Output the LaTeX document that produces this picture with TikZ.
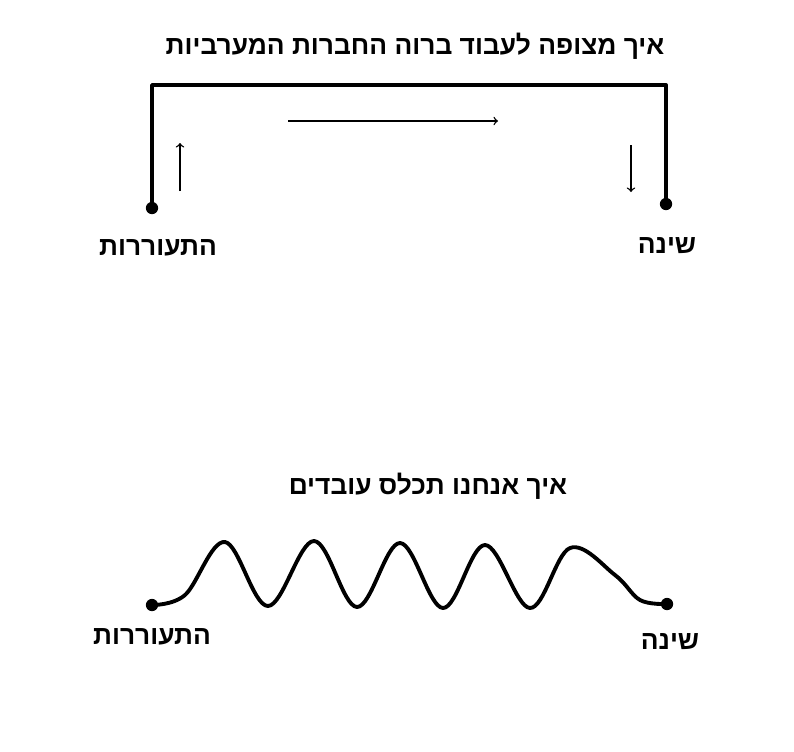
\documentclass[tikz,border=0pt]{standalone}
\usepackage{fontspec}
\newfontfamily\hebfont[Script=Hebrew]{Liberation Sans}
\TeXXeTstate=1
\begin{document}
\begin{tikzpicture}[x=0.02cm,y=-0.02cm,
		heb/.style={font=\hebfont\bfseries\fontsize{15}{18}\selectfont},
		thick line/.style={line width=2.2pt, line cap=round, line join=round},
		thin arrow/.style={line width=0.8pt, -{>[scale=1.6]}},
		dot/.style={circle, fill=black, inner sep=0pt, minimum size=7pt}]
		\useasboundingbox (0,0) rectangle (794,751);
		% top part
		\node[heb] (t1) at (415,46) {\beginR איך מצופה לעבוד ברוה החברות המערביות\endR};
		\node[dot] (wake1) at (152,208) {};
		\node[dot] (sleep1) at (666,204) {};
		\coordinate (c1) at (152,85);
		\coordinate (c2) at (666,85);
		\draw[thick line] (wake1) -- (c1) -- (c2) -- (sleep1);
		\coordinate (u1) at (180,191);
		\coordinate (u2) at (180,143);
		\coordinate (r1) at (288,121);
		\coordinate (r2) at (498,121);
		\coordinate (d1) at (631,145);
		\coordinate (d2) at (631,192);
		\draw[thin arrow] (u1) -- (u2);
		\draw[thin arrow] (r1) -- (r2);
		\draw[thin arrow] (d1) -- (d2);
		\node[heb] (lw1) at (158,248) {\beginR התעוררות\endR};
		\node[heb] (ls1) at (667,246) {\beginR שינה\endR};
		% bottom part
		\node[heb] (t2) at (428,486) {\beginR איך אנחנו תכלס עובדים\endR};
		\node[dot] (wake2) at (152,605) {};
		\node[dot] (sleep2) at (667,604) {};
		\draw[thick line] plot[smooth, tension=0.6] coordinates {(152,605) (185,595) (225,542) (268,606) (314,541) (357,607) (400,543) (443,608) (485,545) (530,608) (570,548) (615,575) (640,600) (667,604)};
		\node[heb] (lw2) at (152,637) {\beginR התעוררות\endR};
		\node[heb] (ls2) at (670,642) {\beginR שינה\endR};
\end{tikzpicture}
\end{document}
